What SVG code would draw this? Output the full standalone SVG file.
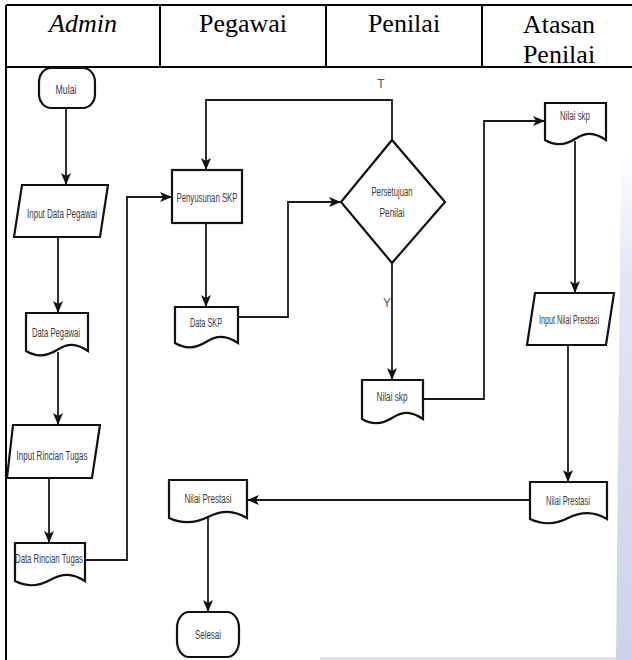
<svg xmlns="http://www.w3.org/2000/svg" width="632" height="660" viewBox="0 0 632 660">
  <defs>
    <marker id="arrow" markerUnits="userSpaceOnUse" markerWidth="12" markerHeight="10" refX="12" refY="5" orient="auto">
      <path d="M0,0 L12,5 L0,10 L3,5 Z" fill="#111"/>
    </marker>
    <linearGradient id="edgeShade" x1="0" y1="0" x2="0" y2="1">
      <stop offset="0" stop-color="#dfe2f3" stop-opacity="0"/>
      <stop offset="0.25" stop-color="#dfe2f3" stop-opacity="0.9"/>
      <stop offset="1" stop-color="#cdd1ea"/>
    </linearGradient>
    <style>
      .grid { stroke: #000; stroke-width: 2; fill: none; }
      .head { font-family: "Liberation Serif", "Times New Roman", serif; font-size: 26px; fill: #000; text-anchor: middle; }
      .shape { fill: #fff; stroke: #111; stroke-width: 2.2; }
      .lbl { font-family: "Liberation Sans Narrow", "Liberation Sans", Arial, sans-serif; font-size: 12px; fill: #3a3a3a; text-anchor: middle; }
      .conn { fill: none; stroke: #1a1a1a; stroke-width: 1.8; }
      .arr { marker-end: url(#arrow); }
      .tag { font-family: "Liberation Sans Narrow", "Liberation Sans", Arial, sans-serif; font-size: 12px; fill: #555; text-anchor: middle; }
    </style>
  </defs>

  <rect width="632" height="660" fill="#fff"/>

  <!-- shaded page edge on the right -->
  <polygon points="621,160 632,150 632,660 616,660" fill="url(#edgeShade)"/>
  <line x1="320" y1="658.5" x2="616" y2="658.5" stroke="#d4d6de" stroke-width="2"/>

  <!-- swimlane table -->
  <g id="table">
    <path class="grid" d="M6,5 H632 M6,5 V660 M6,67 H632 M160,5 V67 M326,5 V67 M482,5 V67"/>
    <text class="head" x="83" y="32" font-style="italic">Admin</text>
    <text class="head" x="243" y="32">Pegawai</text>
    <text class="head" x="404" y="32">Penilai</text>
    <text class="head" x="559" y="33">Atasan</text>
    <text class="head" x="559" y="63">Penilai</text>
  </g>

  <!-- connectors -->
  <g id="connectors">
    <path class="conn arr" d="M66,108 V185"/>
    <path class="conn arr" d="M58,237 V313"/>
    <path class="conn arr" d="M58,352 V425"/>
    <path class="conn arr" d="M49,478 V543"/>
    <path class="conn arr" d="M85,560 H127 V197 H172"/>
    <path class="conn arr" d="M206,223 V307"/>
    <path class="conn arr" d="M238,317 H288 V202 H341"/>
    <path class="conn arr" d="M392,140 V100 H206 V170"/>
    <path class="conn arr" d="M392,263 V380"/>
    <path class="conn arr" d="M423,399 H484 V121 H545"/>
    <path class="conn arr" d="M575,141 V293"/>
    <path class="conn arr" d="M568,345 V482"/>
    <path class="conn arr" d="M530,500 H247"/>
    <path class="conn arr" d="M208,518 V612"/>
    <text class="tag" x="381" y="88">T</text>
    <text class="tag" x="387" y="307">Y</text>
  </g>

  <!-- Admin lane -->
  <g id="mulai">
    <rect class="shape" x="39" y="68" width="56" height="40" rx="12" ry="14"/>
    <text class="lbl" x="66" y="94" textLength="21" lengthAdjust="spacingAndGlyphs">Mulai</text>
  </g>
  <g id="input-data-pegawai">
    <polygon class="shape" points="22,185 108,185 100,237 14,237"/>
    <text class="lbl" x="62" y="218" textLength="70" lengthAdjust="spacingAndGlyphs">Input Data Pegawai</text>
  </g>
  <g id="data-pegawai">
    <path class="shape" d="M26,313 H88 V351 C76,343 68,343 57,350 C46,357 36,357 26,351 Z"/>
    <text class="lbl" x="56" y="337" textLength="48" lengthAdjust="spacingAndGlyphs">Data Pegawai</text>
  </g>
  <g id="input-rincian-tugas">
    <polygon class="shape" points="13,425 100,425 92,478 7,478"/>
    <text class="lbl" x="52" y="460" textLength="71" lengthAdjust="spacingAndGlyphs">Input Rincian Tugas</text>
  </g>
  <g id="data-rincian-tugas">
    <path class="shape" d="M15,543 H85 V581 C72,573 63,573 50,580 C38,587 27,587 15,581 Z"/>
    <text class="lbl" x="49" y="563" textLength="68" lengthAdjust="spacingAndGlyphs">Data Rincian Tugas</text>
  </g>

  <!-- Pegawai lane -->
  <g id="penyusunan-skp">
    <rect class="shape" x="172" y="170" width="70" height="53"/>
    <text class="lbl" x="207" y="202" textLength="61" lengthAdjust="spacingAndGlyphs">Penyusunan SKP</text>
  </g>
  <g id="data-skp">
    <path class="shape" d="M175,307 H238 V343 C226,335 217,335 206,342 C195,349 185,349 175,343 Z"/>
    <text class="lbl" x="206" y="327" textLength="32" lengthAdjust="spacingAndGlyphs">Data SKP</text>
  </g>
  <g id="nilai-prestasi-pegawai">
    <path class="shape" d="M169,480 H247 V518 C233,510 222,510 208,517 C194,524 182,524 169,518 Z"/>
    <text class="lbl" x="208" y="503" textLength="47" lengthAdjust="spacingAndGlyphs">Nilai Prestasi</text>
  </g>
  <g id="selesai">
    <rect class="shape" x="177" y="612" width="62" height="45" rx="12" ry="16"/>
    <text class="lbl" x="208" y="639" textLength="26" lengthAdjust="spacingAndGlyphs">Selesai</text>
  </g>

  <!-- Penilai lane -->
  <g id="persetujuan-penilai">
    <polygon class="shape" points="392,140 445,202 392,263 341,202"/>
    <text class="lbl" x="392" y="196" textLength="41" lengthAdjust="spacingAndGlyphs">Persetujuan</text>
    <text class="lbl" x="392" y="217" textLength="25" lengthAdjust="spacingAndGlyphs">Penilai</text>
  </g>
  <g id="nilai-skp-penilai">
    <path class="shape" d="M362,380 H423 V419 C411,411 403,411 392,418 C381,425 372,425 362,419 Z"/>
    <text class="lbl" x="392" y="401" textLength="31" lengthAdjust="spacingAndGlyphs">Nilai skp</text>
  </g>

  <!-- Atasan Penilai lane -->
  <g id="nilai-skp-atasan">
    <path class="shape" d="M545,103 H606 V140 C594,132 586,132 575,139 C564,146 555,146 545,140 Z"/>
    <text class="lbl" x="575" y="120" textLength="30" lengthAdjust="spacingAndGlyphs">Nilai skp</text>
  </g>
  <g id="input-nilai-prestasi">
    <polygon class="shape" points="535,293 614,293 606,345 527,345"/>
    <text class="lbl" x="569" y="324" textLength="60" lengthAdjust="spacingAndGlyphs">Input Nilai Prestasi</text>
  </g>
  <g id="nilai-prestasi-atasan">
    <path class="shape" d="M530,482 H607 V519 C594,511 582,511 568,518 C555,525 543,525 530,519 Z"/>
    <text class="lbl" x="568" y="505" textLength="44" lengthAdjust="spacingAndGlyphs">Nilai Prestasi</text>
  </g>
</svg>
